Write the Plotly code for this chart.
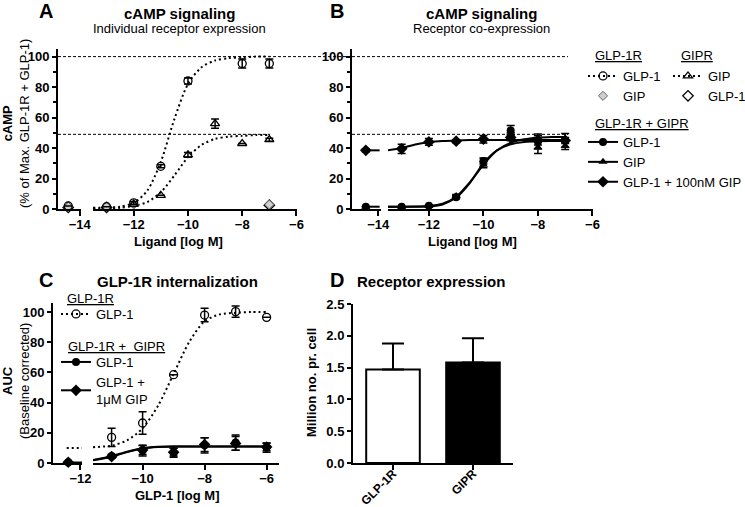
import plotly.graph_objects as go

W, H = 745, 507
FONT = "Liberation Sans, Arial, sans-serif"

# ---------------- Panel A : cAMP, individual receptor expression ----------------
A_glp1r_glp1_x = [-14.45, -13, -12, -11, -10, -8, -7]
A_glp1r_glp1_y = [2, 1.5, 4, 28, 84, 95.5, 95.5]
A_glp1r_glp1_e = [0, 0, 1, 1, 2, 3, 3]
A_glp1r_gip_x = [-14.45, -13, -12, -7]
A_glp1r_gip_y = [1.5, 1.5, 3, 3]
A_gipr_gip_x = [-12, -11, -10, -9, -8, -7]
A_gipr_gip_y = [3, 9, 35.5, 56, 43, 45.5]
A_gipr_gip_e = [0, 0, 1.5, 3, 0, 1]
A_gipr_glp1_x = [-14.45, -13, -7]
A_gipr_glp1_y = [1, 1, 2.5]

fit_ab_x = [-13.5, -13, -12.5, -12, -11.5, -11, -10.5, -10, -9.5, -9, -8.5, -8, -7.5, -7]
A_fit_glp1r_glp1 = [0.8, 1, 1.5, 4, 12, 31, 59, 82, 93, 97.5, 99, 99.5, 100, 100]
A_fit_gipr_gip = [0.2, 0.3, 0.8, 2, 4.5, 11, 22, 34, 42, 46, 47.5, 48, 48.5, 48.5]

# ---------------- Panel B : cAMP, receptor co-expression ----------------
B_x = [-14.45, -13, -12, -11, -10, -9, -8, -7]
B_glp1_y = [1.5, 1.5, 2.2, 7.7, 31.5, 51.5, 44.3, 45]
B_glp1_e = [0, 0, 0.5, 1, 2, 3.3, 5, 4.5]
B_gip_y = [1.5, 1.5, 2, 8.5, 29, 47.5, 40.5, 41.5]
B_gip_e = [0, 0, 0.5, 1, 2, 2.5, 4, 2.5]
B_combo_y = [38.5, 39.5, 44, 44.5, 45.8, 47, 45, 45]
B_combo_e = [1, 3, 2.2, 1, 2.5, 2, 3, 2]

B_fit_glp1 = [1.5, 1.5, 1.6, 2, 3.5, 8, 17.5, 29, 38.5, 43.5, 45.8, 46.8, 47.2, 47.3]
B_fit_gip = [1.5, 1.5, 1.5, 1.8, 3, 7.5, 17, 30, 38.5, 42.5, 44, 44.5, 44.6, 44.6]
B_fit_combo = [38.5, 40, 42.3, 43.8, 44.6, 45, 45.2, 45.3, 45.3, 45.3, 45.3, 45.3, 45.3, 45.3]
B_left_fit_x = [-14.45, -13.95]
B_left_fit_glp1 = [1.5, 1.5]
B_left_fit_combo = [38.5, 38.5]

ref_levels = [100, 49]

# ---------------- Panel C : GLP-1R internalization ----------------
C_open_x = [-11, -10, -9, -8, -7, -6]
C_open_y = [17, 26.5, 58.5, 98, 100.3, 96.5]
C_open_e = [6, 7.5, 0, 4.5, 3.7, 0]
C_x = [-12.4, -11, -10, -9, -8, -7, -6]
C_glp1_y = [0.5, 4.6, 8.2, 6.8, 11.7, 13.5, 10.2]
C_glp1_e = [0, 1, 3.5, 3, 5, 5, 3]
C_combo_y = [0.5, 4.2, 8.6, 7.2, 12.2, 13, 10.6]
C_combo_e = [0, 1, 3, 2.5, 4.5, 4.5, 2.5]
fit_c_x = [-11.6, -11, -10.5, -10, -9.5, -9, -8.5, -8, -7.5, -7, -6.5, -6]
C_fit_open = [10.5, 11.5, 15, 23, 38, 59, 80, 94, 98.5, 99.5, 100, 100]
C_fit_glp1 = [2, 4.5, 7.5, 9.8, 10.7, 11, 11, 11, 11, 11, 11, 11]
C_fit_combo = [1.8, 4.2, 7.2, 9.6, 10.6, 10.9, 11, 11, 11, 11, 11, 11]
C_left_open_x = [-12.45, -11.95]
C_left_open_y = [10, 10]
C_left_fit_x = [-12.4, -11.95]
C_left_fit_y = [0, 0]

# ---------------- Panel D : receptor expression ----------------
D_cats = ["GLP-1R", "GIPR"]
D_vals = [1.47, 1.58]
D_err = [0.41, 0.38]
D_colors = ["white", "black"]

fig = go.Figure()

ERR = dict(type="data", thickness=1.5, width=4, color="black")


def add_points(xs, ys, es, brk, xl, xm, ya, marker):
    for test, xa in ((lambda v: v < brk, xl), (lambda v: v >= brk, xm)):
        idx = [i for i, v in enumerate(xs) if test(v)]
        if not idx:
            continue
        err = dict(ERR, array=[es[i] for i in idx], visible=True) if es else dict(visible=False)
        fig.add_trace(go.Scatter(
            x=[xs[i] for i in idx], y=[ys[i] for i in idx], mode="markers",
            marker=marker, error_y=err, xaxis=xa, yaxis=ya,
            showlegend=False, cliponaxis=False, hoverinfo="skip"))


def add_line(xs, ys, xa, ya, dash, width=2):
    fig.add_trace(go.Scatter(x=xs, y=ys, mode="lines", line=dict(color="black", width=width, dash=dash,
                                                                  shape="spline", smoothing=0.8),
                             xaxis=xa, yaxis=ya, showlegend=False, cliponaxis=False, hoverinfo="skip"))


def add_proxy(name, legend, marker, mode, dash="solid"):
    fig.add_trace(go.Scatter(x=[None], y=[None], mode=mode, name=name, legend=legend,
                             marker=marker, line=dict(color="black", width=2, dash=dash),
                             xaxis="x2", yaxis="y", showlegend=True))


DOT = "2px,3px"
M_OC = dict(symbol="circle-open", size=8, color="black", line=dict(width=1.3, color="black"))
M_GD = dict(symbol="diamond", size=7, color="#cfcfcf", line=dict(width=1, color="#666"))
M_OT = dict(symbol="triangle-up-open", size=8, color="black", line=dict(width=1.3, color="black"))
M_OD = dict(symbol="diamond-open", size=8, color="black", line=dict(width=1.3, color="black"))
M_FC = dict(symbol="circle", size=8, color="black")
M_FT = dict(symbol="triangle-up", size=8, color="black")
M_FD = dict(symbol="diamond", size=9, color="black")

# ---- Panel A traces ----
add_line(fit_ab_x, A_fit_glp1r_glp1, "x2", "y", DOT)
add_line(fit_ab_x, A_fit_gipr_gip, "x2", "y", DOT)
add_points(A_gipr_glp1_x, A_gipr_glp1_y, None, -13.9, "x", "x2", "y", M_OD)
add_points(A_glp1r_gip_x, A_glp1r_gip_y, None, -13.9, "x", "x2", "y", M_GD)
add_points(A_gipr_gip_x, A_gipr_gip_y, A_gipr_gip_e, -13.9, "x", "x2", "y", M_OT)
add_points(A_glp1r_glp1_x, A_glp1r_glp1_y, A_glp1r_glp1_e, -13.9, "x", "x2", "y", M_OC)

# ---- Panel B traces ----
add_line(fit_ab_x, B_fit_glp1, "x4", "y2", "solid")
add_line(fit_ab_x, B_fit_gip, "x4", "y2", "solid")
add_line(fit_ab_x, B_fit_combo, "x4", "y2", "solid")
add_line(B_left_fit_x, B_left_fit_glp1, "x3", "y2", "solid")
add_line(B_left_fit_x, B_left_fit_combo, "x3", "y2", "solid")
add_points(B_x, B_gip_y, B_gip_e, -13.9, "x3", "x4", "y2", M_FT)
add_points(B_x, B_glp1_y, B_glp1_e, -13.9, "x3", "x4", "y2", M_FC)
add_points(B_x, B_combo_y, B_combo_e, -13.9, "x3", "x4", "y2", M_FD)

# ---- Panel C traces ----
add_line(fit_c_x, C_fit_open, "x6", "y3", DOT)
add_line(C_left_open_x, C_left_open_y, "x5", "y3", DOT)
add_line(fit_c_x, C_fit_glp1, "x6", "y3", "solid")
add_line(fit_c_x, C_fit_combo, "x6", "y3", "solid")
add_line(C_left_fit_x, C_left_fit_y, "x5", "y3", "solid", width=3)
add_points(C_open_x, C_open_y, C_open_e, -11.8, "x5", "x6", "y3", M_OC)
add_points(C_x, C_combo_y, C_combo_e, -11.8, "x5", "x6", "y3", M_FD)
add_points(C_x, C_glp1_y, C_glp1_e, -11.8, "x5", "x6", "y3", M_FC)

# ---- Panel D bars ----
fig.add_trace(go.Bar(x=D_cats, y=D_vals, width=0.67,
                     marker=dict(color=D_colors, line=dict(color="black", width=2)),
                     error_y=dict(type="data", array=D_err, arrayminus=[0, 0], symmetric=False,
                                  thickness=2, width=11, color="black"),
                     xaxis="x7", yaxis="y4", showlegend=False, hoverinfo="skip"))

# ---- Legend proxies ----
add_proxy("GLP-1", "legend", M_OC, "lines+markers", DOT)
add_proxy("GIP", "legend", M_GD, "markers")
add_proxy("GIP", "legend2", M_OT, "lines+markers", DOT)
add_proxy("GLP-1", "legend2", M_OD, "markers")
add_proxy("GLP-1", "legend3", M_FC, "lines+markers")
add_proxy("GIP", "legend3", M_FT, "lines+markers")
add_proxy("GLP-1 + 100nM GIP", "legend3", M_FD, "lines+markers")
add_proxy("GLP-1", "legend4", M_OC, "lines+markers", DOT)
add_proxy("GLP-1", "legend5", M_FC, "lines+markers")
add_proxy("GLP-1 +<br>1μM GIP", "legend5", M_FD, "lines+markers")

# ---------------- Layout ----------------
TICKFONT = dict(family=FONT, size=13, color="black", weight="bold")


def px_x(a, b):
    return [a / W, b / W]


def px_y(bottom, top):
    return [1 - bottom / H, 1 - top / H]


def xaxis(dom, rng, tickvals, anchor):
    return dict(domain=dom, range=rng, anchor=anchor, tickvals=tickvals, showline=True, linewidth=2,
                linecolor="black", ticks="outside", ticklen=5, tickwidth=2, tickcolor="black",
                tickfont=TICKFONT, showgrid=False, zeroline=False, fixedrange=True,
                ticklabelstandoff=-3)


def yaxis(dom, rng, tickvals, anchor, minor=None, fmt=None):
    d = dict(domain=dom, range=rng, anchor=anchor, tickvals=tickvals, showline=True, linewidth=2,
             linecolor="black", ticks="outside", ticklen=4, tickwidth=2, tickcolor="black",
             tickfont=TICKFONT, showgrid=False, zeroline=False, fixedrange=True)
    if minor:
        d["minor"] = dict(dtick=minor, ticks="outside", ticklen=3, tickwidth=1.5, tickcolor="black",
                          showgrid=False)
    if fmt:
        d["tickformat"] = fmt
    return d


yA = px_y(209, 49)
yC = px_y(463, 303)
xD = xaxis(px_x(353, 513), [-0.5, 1.5], None, "y4")
xD.update(type="category", tickangle=-45, ticklabelstandoff=-8,
          tickfont=dict(family=FONT, size=12, color="black", weight="bold"))
xD.pop("tickvals")
layout = dict(
    width=W, height=H, margin=dict(l=0, r=0, t=0, b=0, autoexpand=False),
    paper_bgcolor="white", plot_bgcolor="white", font=dict(family=FONT, size=13, color="black"),
    xaxis=xaxis(px_x(58, 81), [-14.85, -13.95], [-14], "y"),
    xaxis2=xaxis(px_x(93, 297), [-13.5, -5.98], [-12, -10, -8, -6], "y"),
    yaxis=yaxis(yA, [0, 105], [0, 20, 40, 60, 80, 100], "x", minor=10),
    xaxis3=xaxis(px_x(352, 381), [-14.95, -13.9], [-14], "y2"),
    xaxis4=xaxis(px_x(388, 593), [-13.5, -5.98], [-12, -10, -8, -6], "y2"),
    yaxis2=yaxis(yA, [0, 105], [0, 20, 40, 60, 80, 100], "x3", minor=10),
    xaxis5=xaxis(px_x(53, 82), [-12.9, -11.95], [-12], "y3"),
    xaxis6=xaxis(px_x(93, 279), [-11.6, -5.6], [-10, -8, -6], "y3"),
    yaxis3=yaxis(yC, [0, 106], [0, 20, 40, 60, 80, 100], "x5"),
    xaxis7=xD,
    yaxis4=yaxis(px_y(463, 304), [0, 2.5], [0, 0.5, 1.0, 1.5, 2.0, 2.5], "x7", fmt=".1f"),
    bargap=0.3,
)

LEG = dict(xanchor="left", yanchor="top", bgcolor="rgba(0,0,0,0)", borderwidth=0, itemwidth=30,
           font=dict(family=FONT, size=13, color="black"), itemclick=False, itemdoubleclick=False,
           tracegroupgap=0)
layout["legend"] = dict(LEG, x=583 / W, y=1 - 61 / H)
layout["legend2"] = dict(LEG, x=668 / W, y=1 - 61 / H)
layout["legend3"] = dict(LEG, x=583 / W, y=1 - 127 / H)
layout["legend4"] = dict(LEG, x=56 / W, y=1 - 299 / H)
layout["legend5"] = dict(LEG, x=56 / W, y=1 - 347 / H)

# Reference (dashed) lines
shapes = []
for lvl, xend in zip(ref_levels, [352, 270]):
    shapes.append(dict(type="line", xref="paper", yref="y", x0=58 / W, x1=xend / W, y0=lvl, y1=lvl,
                       line=dict(color="black", width=1, dash="3px,2px")))
for lvl in ref_levels:
    shapes.append(dict(type="line", xref="paper", yref="y2", x0=352 / W, x1=568 / W, y0=lvl, y1=lvl,
                       line=dict(color="black", width=1, dash="3px,2px")))
layout["shapes"] = shapes


def ann(text, x, y, size=13, bold=False, xanchor="center", angle=0):
    return dict(text=text, x=x / W, y=1 - y / H, xref="paper", yref="paper", showarrow=False,
                xanchor=xanchor, yanchor="middle", textangle=angle,
                font=dict(family=FONT, size=size, color="black", weight="bold" if bold else "normal"))


layout["annotations"] = [
    ann("A", 46, 11, 20, True), ann("B", 337, 11, 20, True),
    ann("C", 46, 280, 20, True), ann("D", 337, 280, 20, True),
    ann("cAMP signaling", 179, 13, 15, True),
    ann("Individual receptor expression", 179, 29, 13),
    ann("cAMP signaling", 481, 13, 15, True),
    ann("Receptor co-expression", 481, 29, 13),
    ann("GLP-1R internalization", 177, 281, 15, True),
    ann("Receptor expression", 431, 281, 15, True),
    ann("Ligand [log M]", 178, 241, 13, True),
    ann("Ligand [log M]", 472, 241, 13, True),
    ann("GLP-1 [log M]", 177, 495, 13, True),
    ann("<b>cAMP</b><br>(% of Max. GLP-1R + GLP-1)", 16, 124, 13, angle=-90),
    ann("<b>AUC</b><br>(Baseline corrected)", 16, 381, 13, angle=-90),
    ann("Million no. pr. cell", 311, 383, 13, True, angle=-90),
    ann("<u>GLP-1R</u>", 593, 55, 13, xanchor="left"),
    ann("<u>GIPR</u>", 679, 55, 13, xanchor="left"),
    ann("<u>GLP-1R + GIPR</u>", 593, 123, 13, xanchor="left"),
    ann("<u>GLP-1R</u>", 65, 298, 13, xanchor="left"),
    ann("<u>GLP-1R +  GIPR</u>", 66, 346, 13, xanchor="left"),
]

fig.update_layout(**layout)
fig.write_html("out.html", config={"displayModeBar": False},
               post_script="document.body.style.margin='0';document.body.style.overflow='hidden';")
